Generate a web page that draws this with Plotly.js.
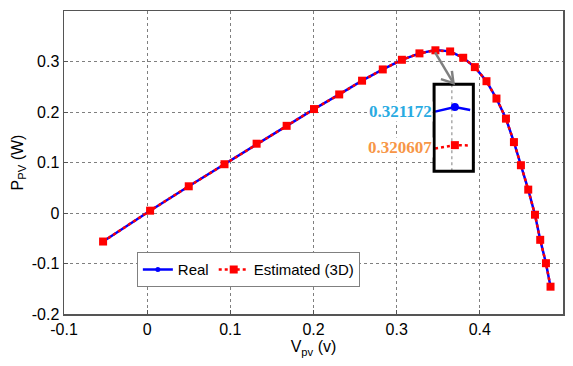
<!DOCTYPE html>
<html>
<head>
<meta charset="utf-8">
<script src="https://cdn.plot.ly/plotly-3.0.1.min.js"></script>
<style>html,body{margin:0;padding:0;background:#fff;}#chart{width:573px;height:366px;}</style>
</head>
<body>
<div id="chart"></div>
<script>
// Main curve: PV voltage (V) and power (W)
const vpv = [-0.053, 0.0035, 0.050, 0.093, 0.1316, 0.1677, 0.2006, 0.2309, 0.2584, 0.2833, 0.3063, 0.3274, 0.3466, 0.3643, 0.3800, 0.3940, 0.4080, 0.4200, 0.4314, 0.4410, 0.4494, 0.4582, 0.4663, 0.4726, 0.4795, 0.4850];
const pReal = [-0.0565, 0.0046, 0.0529, 0.0966, 0.1372, 0.1726, 0.2058, 0.2348, 0.2620, 0.2843, 0.3034, 0.3161, 0.3227, 0.3201, 0.3074, 0.2889, 0.2610, 0.2266, 0.1869, 0.1404, 0.0946, 0.0463, -0.0034, -0.0531, -0.0994, -0.1459];
const pEst = [-0.0565, 0.0046, 0.0529, 0.0966, 0.1372, 0.1726, 0.2058, 0.2348, 0.2620, 0.2843, 0.3034, 0.3161, 0.3222, 0.3199, 0.3074, 0.2889, 0.2610, 0.2266, 0.1869, 0.1404, 0.0946, 0.0463, -0.0034, -0.0531, -0.0994, -0.1459];
// Inset (zoomed peak detail) drawn in data space of the main axes
const insetX = [0.3462, 0.3700, 0.3884];
const insetReal = [0.2008, 0.2099, 0.2040];
const insetEstX = [0.3462, 0.3700, 0.3863];
const insetEst = [0.1278, 0.1344, 0.1338];
const labelReal = "0.321172";
const labelEst = "0.320607";
const xTicks = [-0.1, 0, 0.1, 0.2, 0.3, 0.4, 0.5];
const yTicks = [-0.2, -0.1, 0, 0.1, 0.2, 0.3];

const traces = [
  {x: vpv, y: pReal, name: 'Real', mode: 'lines+markers', type: 'scatter',
   line: {color: '#0000ff', width: 2.5}, marker: {color: '#0000ff', size: 5, symbol: 'circle'}},
  {x: vpv, y: pEst, name: 'Estimated (3D)', mode: 'lines+markers', type: 'scatter',
   line: {color: '#ff0000', width: 2.5, dash: 'dot'}, marker: {color: '#ff0000', size: 8, symbol: 'square'}},
  {x: insetX, y: insetReal, mode: 'lines', type: 'scatter', showlegend: false, hoverinfo: 'skip',
   line: {color: '#0000ff', width: 2.5}},
  {x: [insetX[1]], y: [insetReal[1]], mode: 'markers', type: 'scatter', showlegend: false, hoverinfo: 'skip',
   marker: {color: '#0000ff', size: 8, symbol: 'circle'}},
  {x: insetEstX, y: insetEst, mode: 'lines', type: 'scatter', showlegend: false, hoverinfo: 'skip',
   line: {color: '#ff0000', width: 2.5, dash: 'dot'}},
  {x: [insetEstX[1]], y: [insetEst[1]], mode: 'markers', type: 'scatter', showlegend: false, hoverinfo: 'skip',
   marker: {color: '#ff0000', size: 8, symbol: 'square'}}
];

const fnt = {family: '"Liberation Sans", Arial, sans-serif', size: 16, color: '#000'};
const legFnt = {family: '"Liberation Sans", Arial, sans-serif', size: 15, color: '#000'};
const layout = {
  width: 573, height: 366,
  margin: {l: 64, r: 10, t: 11, b: 52},
  paper_bgcolor: '#fff', plot_bgcolor: '#fff',
  font: fnt,
  showlegend: true,
  legend: {x: 0.146, y: 0.204, xanchor: 'left', yanchor: 'top', orientation: 'h',
           bgcolor: '#fff', bordercolor: '#808080', borderwidth: 1, font: legFnt,
           itemwidth: 30, tracegroupgap: 0},
  xaxis: {range: [-0.1, 0.5], tickvals: xTicks, ticktext: xTicks.map(String),
          showgrid: true, gridcolor: '#7f7f7f', griddash: 'dot', gridwidth: 1,
          zeroline: false, showline: true, linecolor: '#555', linewidth: 1.5, mirror: true,
          ticks: 'inside', ticklen: 4, tickcolor: '#555',
          title: {text: 'V<sub>pv</sub> (v)', font: fnt, standoff: 4}},
  yaxis: {range: [-0.2, 0.4], tickvals: yTicks, ticktext: yTicks.map(String),
          showgrid: true, gridcolor: '#7f7f7f', griddash: 'dot', gridwidth: 1,
          zeroline: false, showline: true, linecolor: '#555', linewidth: 1.5, mirror: true,
          ticks: 'inside', ticklen: 4, tickcolor: '#555',
          title: {text: 'P<sub>PV</sub> (W)', font: fnt, standoff: 4}},
  shapes: [
    {type: 'rect', xref: 'x', yref: 'y', x0: 0.345, x1: 0.3922, y0: 0.0827, y1: 0.2551,
     fillcolor: '#fff', line: {width: 0}, layer: 'between'},
    {type: 'line', xref: 'x', yref: 'y', x0: 0.3664, x1: 0.3664, y0: 0.0827, y1: 0.2551,
     line: {color: '#7f7f7f', width: 1, dash: 'dot'}, layer: 'between'},
    {type: 'rect', xref: 'x', yref: 'y', x0: 0.345, x1: 0.3922, y0: 0.0827, y1: 0.2551,
     line: {color: '#000', width: 3}, layer: 'above'},
    {type: 'path', xref: 'x', yref: 'y', path: 'M 0.3462 0.3181 L 0.3683 0.2571',
     line: {color: '#808080', width: 2.5}, layer: 'above'},
    {type: 'path', xref: 'x', yref: 'y', path: 'M 0.3532 0.2650 L 0.3683 0.2571 L 0.3664 0.2815',
     line: {color: '#808080', width: 2.5}, layer: 'above'}
  ],
  annotations: [
    {xref: 'x', yref: 'y', x: 0.3440, y: 0.2010, text: '<b>' + labelReal + '</b>', showarrow: false,
     xanchor: 'right', yanchor: 'middle', bgcolor: '#fff', borderpad: 0,
     font: {family: '"Liberation Serif", "Times New Roman", serif', size: 17, color: '#29abe2'}},
    {xref: 'x', yref: 'y', x: 0.3440, y: 0.1305, text: '<b>' + labelEst + '</b>', showarrow: false,
     xanchor: 'right', yanchor: 'middle', bgcolor: '#fff', borderpad: 0,
     font: {family: '"Liberation Serif", "Times New Roman", serif', size: 17, color: '#f79646'}}
  ]
};
Plotly.newPlot('chart', traces, layout, {displayModeBar: false, staticPlot: true});
</script>
</body>
</html>
